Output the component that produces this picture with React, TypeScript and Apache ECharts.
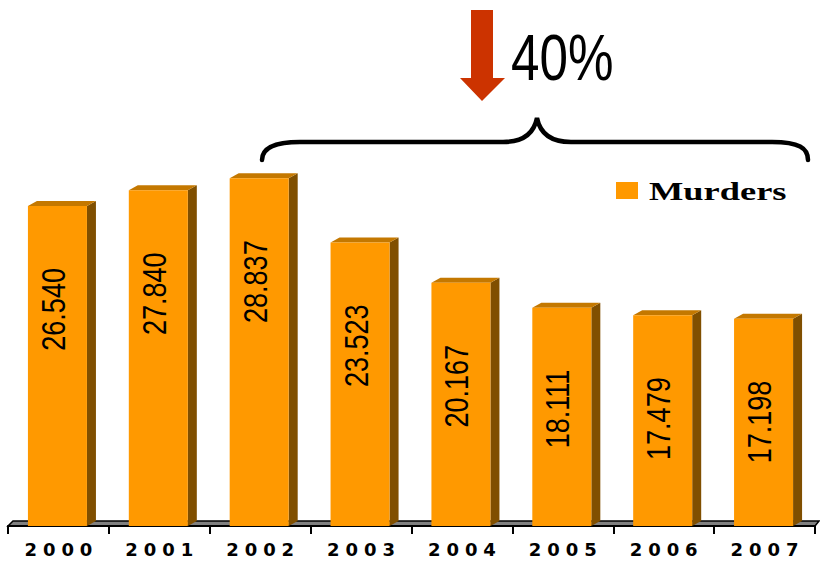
import React, { useEffect, useRef } from "react";
import * as echarts from "echarts";

const categories = ["2000", "2001", "2002", "2003", "2004", "2005", "2006", "2007"];
const murders = [26540, 27840, 28837, 23523, 20167, 18111, 17479, 17198];
const seriesName = "Murders";
const dropLabel = "40%";

const GRID_LEFT = 8;
const GRID_RIGHT = 5;
const GRID_TOP = 104;
const GRID_BOTTOM = 35;
const W = 820;
const H = 561;

const fmt = (v: number) => {
  const s = String(Math.round(v));
  return s.replace(/\B(?=(\d{3})+(?!\d))/g, ".");
};

const bracePath =
  "M262,160 C262,148 275,142 300,142 L503,142 C524,142 534,133 537,118 C540,133 550,142 571,142 L772,142 C799,142 808,148 808,160";

export default function App() {
  const ref = useRef<HTMLDivElement>(null);
  useEffect(() => {
    if (!ref.current) return;
    echarts.graphic.registerShape("brace", echarts.graphic.extendPath(bracePath, {}) as any);
    const chart = echarts.init(ref.current, null, { renderer: "svg" });
    const L = GRID_LEFT;
    const R = W - GRID_RIGHT;
    const B = H - GRID_BOTTOM;
    const option: any = {
      animation: false,
      grid: { left: GRID_LEFT, right: GRID_RIGHT, top: GRID_TOP, bottom: GRID_BOTTOM },
      xAxis: {
        type: "category",
        data: categories,
        boundaryGap: true,
        axisLine: { lineStyle: { color: "#000", width: 2 } },
        axisTick: { show: true, length: 8, lineStyle: { color: "#000", width: 2 } },
        axisLabel: {
          formatter: (v: string) => v.split("").join("\u2004"),
          fontSize: 18,
          fontWeight: "bold",
          fontFamily: "DejaVu Sans, sans-serif",
          color: "#000",
          margin: 14,
        },
      },
      yAxis: { type: "value", min: 0, max: 35000, show: false },
      series: [
        {
          type: "custom",
          name: seriesName,
          z: 5,
          data: murders.map((v, i) => [i, v]),
          renderItem: (params: any, api: any) => {
            const i = api.value(0);
            const v = api.value(1);
            const top = api.coord([i, v]);
            const base = api.coord([i, 0]);
            const band = api.size([1, 0])[0];
            const fw = band * 0.585;
            const cx = top[0] - 1;
            const x0 = cx - fw / 2;
            const x1 = cx + fw / 2;
            const ty = top[1];
            const by = base[1];
            const dx = 9;
            const dy = 5;
            return {
              type: "group",
              children: [
                {
                  type: "polygon",
                  shape: { points: [[x1, ty], [x1 + dx, ty - dy], [x1 + dx, by - dy], [x1, by]] },
                  style: { fill: "#804f00" },
                },
                {
                  type: "polygon",
                  shape: { points: [[x0, ty], [x0 + dx, ty - dy], [x1 + dx, ty - dy], [x1, ty]] },
                  style: { fill: "#c47800" },
                },
                {
                  type: "rect",
                  shape: { x: x0, y: ty, width: fw, height: by - ty },
                  style: { fill: "#ff9900" },
                },
                {
                  type: "text",
                  x: cx - 4,
                  y: ty + 62,
                  rotation: Math.PI / 2,
                  scaleX: 0.82,
                  style: {
                    text: fmt(v),
                    x: 0,
                    y: 0,
                    align: "right",
                    verticalAlign: "middle",
                    fontSize: 33,
                    fontFamily: "Liberation Sans, Arial, sans-serif",
                    fill: "#000",
                  },
                },
              ],
            };
          },
        },
      ],
      graphic: [
        {
          type: "polygon",
          z: 0,
          shape: { points: [[L, B], [R, B], [R + 4, B - 5], [L + 5, B - 5]] },
          style: { fill: "#808080", stroke: "#000", lineWidth: 1.5 },
        },
        {
          type: "polygon",
          z: 10,
          shape: {
            points: [[471, 10], [493, 10], [493, 78], [505, 78], [482, 101], [460, 78], [471, 78]],
          },
          style: { fill: "#cc3300" },
        },
        {
          type: "text",
          z: 10,
          x: 511,
          y: 90,
          scaleX: 0.8,
          style: {
            text: dropLabel,
            fontSize: 64,
            fontFamily: "Liberation Sans, Arial, sans-serif",
            fill: "#000",
            align: "left",
            verticalAlign: "bottom",
          },
        },
        {
          type: "brace",
          z: 10,
          x: 0,
          y: 0,
          style: { fill: null, stroke: "#000", lineWidth: 4.5, lineCap: "round" },
        },
        {
          type: "rect",
          z: 10,
          shape: { x: 616, y: 182, width: 22, height: 17 },
          style: { fill: "#ff9900" },
        },
        {
          type: "text",
          z: 10,
          x: 649,
          y: 191,
          scaleX: 1.4,
          style: {
            text: seriesName,
            fontSize: 26,
            fontWeight: "bold",
            fontFamily: "Liberation Serif, Times New Roman, serif",
            fill: "#000",
            align: "left",
            verticalAlign: "middle",
          },
        },
      ],
    };
    chart.setOption(option);
    return () => chart.dispose();
  }, []);
  return <div ref={ref} style={{ width: W, height: H, position: "absolute", left: 0, top: 0 }} />;
}
